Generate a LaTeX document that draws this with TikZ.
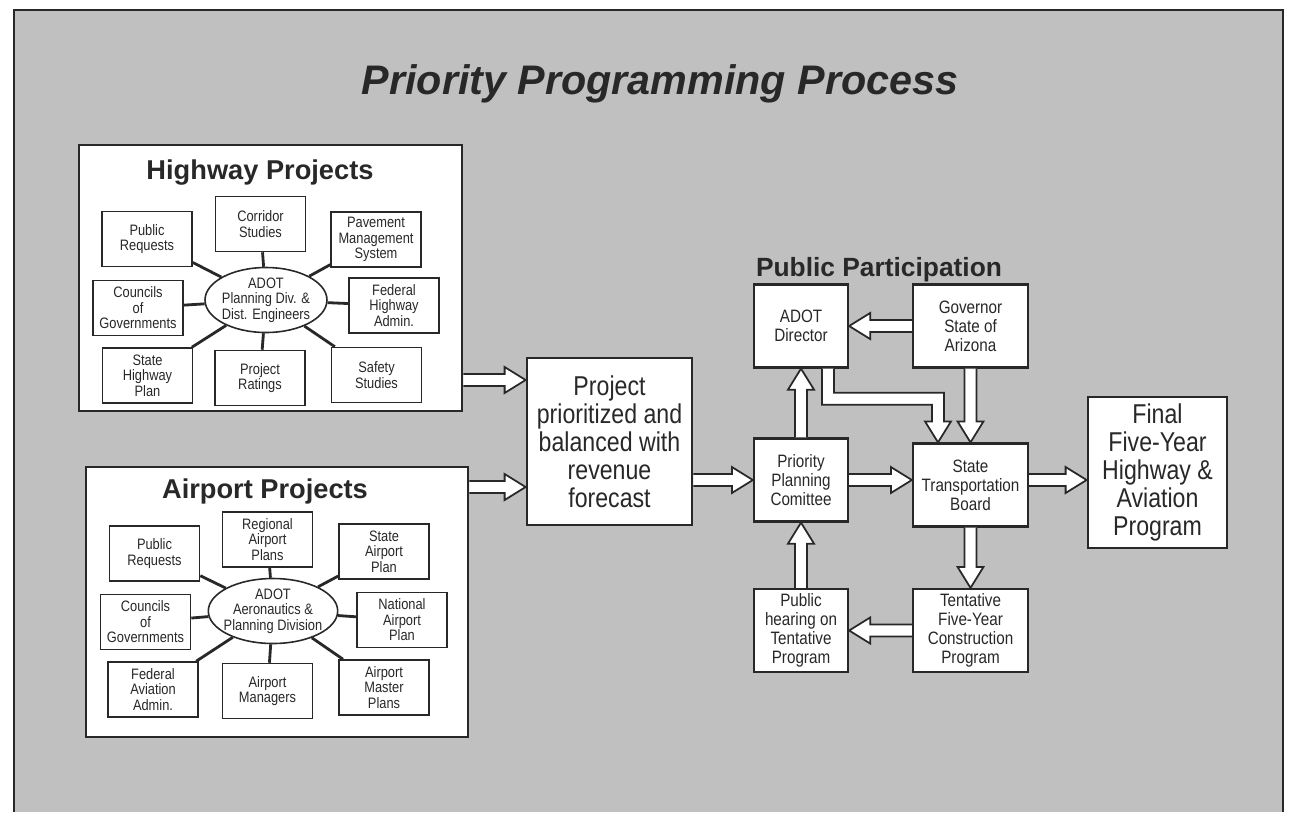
\documentclass[tikz,border=0pt]{standalone}
\usepackage{fontspec}
\usepackage{tikz}
\usetikzlibrary{shapes.geometric,calc}
\setmainfont{Liberation Sans}
\newfontfamily\narrowfont{Liberation Sans}[FakeStretch=0.85]
\definecolor{ink}{RGB}{40,40,40}
\definecolor{paper}{RGB}{192,192,192}

% hollow block arrow from #1 to #2
\newcommand{\fatarrow}[2]{%
  \coordinate (fa-h) at ($(#2)!0.42cm!(#1)$);
  \filldraw[hollow] ($(#1)!0.12cm!90:(#2)$) -- ($(fa-h)!0.12cm!-90:(#1)$)
    -- ($(fa-h)!0.26cm!-90:(#1)$) -- (#2) -- ($(fa-h)!0.26cm!90:(#1)$)
    -- ($(fa-h)!0.12cm!90:(#1)$) -- ($(#1)!0.12cm!-90:(#2)$);}

\begin{document}
\begin{tikzpicture}[x=0.02cm,y=-0.02cm,
  frame/.style={draw=ink,line width=1.2pt},
  group/.style={draw=ink,fill=white,line width=1.6pt},
  grouptitle/.style={text=ink,font={\bfseries\fontsize{15.5}{16}\selectfont}},
  sub/.style={draw=ink,fill=white,line width=0.9pt,minimum width=1.8cm,minimum height=1.1cm,inner sep=1pt,align=center,text=ink,font={\narrowfont\fontsize{8.6}{8.8}\selectfont}},
  hub/.style={sub,ellipse,minimum width=2.44cm,minimum height=1.3cm,inner xsep=-2pt,inner ysep=0pt},
  spoke/.style={draw=ink,line width=1.6pt},
  stage/.style={draw=ink,fill=white,line width=1.3pt,minimum width=1.88cm,minimum height=1.66cm,inner sep=1pt,align=center,text=ink,font={\narrowfont\fontsize{10.2}{10.8}\selectfont}},
  bigstage/.style={stage,line width=1.6pt,font={\narrowfont\fontsize{15.5}{16}\selectfont}},
  hollow/.style={draw=ink,fill=white,line width=1pt,line join=miter}]

% background and frame
\fill[white] (0,0) rectangle (1291,812);
\fill[paper] (14,10) rectangle (1283,812);
\draw[frame] (14,812) -- (14,10) -- (1283,10) -- (1283,812);
\useasboundingbox (0,0) rectangle (1291,812);

\node[text=ink,font={\bfseries\itshape\fontsize{23.5}{26}\selectfont}] (title) at (660,84) {Priority Programming Process};

% highway projects
\node[group,minimum width=7.66cm,minimum height=5.32cm] (hw) at (270.5,278) {};
\node[grouptitle] (hwt) at (260,173) {Highway Projects};
\node[hub] (hhub) at (266,300) {ADOT\\Planning Div. \&\\Dist. Engineers};
\node[sub] (hpr) at (147,239) {Public\\Requests};
\node[sub] (hcs) at (260.5,224) {Corridor\\Studies};
\node[sub] (hpm) at (376,239.5) {Pavement\\Management\\System};
\node[sub] (hcg) at (138,308) {Councils\\of\\Governments};
\node[sub] (hfh) at (394,305.5) {Federal\\Highway\\Admin.};
\node[sub] (hsp) at (147.5,375.5) {State\\Highway\\Plan};
\node[sub] (hrt) at (260,378) {Project\\Ratings};
\node[sub] (hss) at (376.5,375) {Safety\\Studies};
\foreach \b in {hpr,hcs,hpm,hcg,hfh,hsp,hrt,hss}
  \draw[spoke] (hhub) -- (\b);

% airport projects
\node[group,minimum width=7.64cm,minimum height=5.4cm] (ap) at (277,602) {};
\node[grouptitle] (apt) at (265,491) {Airport Projects};
\node[hub] (ahub) at (273,611) {ADOT\\Aeronautics \&\\Planning Division};
\node[sub] (apr) at (154.5,553.5) {Public\\Requests};
\node[sub] (arp) at (267.5,539.5) {Regional\\Airport\\Plans};
\node[sub] (asp) at (384,551.5) {State\\Airport\\Plan};
\node[sub] (acg) at (145.5,622) {Councils\\of\\Governments};
\node[sub] (anp) at (402,620) {National\\Airport\\Plan};
\node[sub] (afa) at (153,689.5) {Federal\\Aviation\\Admin.};
\node[sub] (amg) at (267.5,691) {Airport\\Managers};
\node[sub] (amp) at (384,687.5) {Airport\\Master\\Plans};
\foreach \b in {apr,arp,asp,acg,anp,afa,amg,amp}
  \draw[spoke] (ahub) -- (\b);

% programming steps
\node[bigstage,minimum width=3.3cm,minimum height=3.34cm] (pj) at (609.5,441.5) {Project\\prioritized and\\balanced with\\revenue\\forecast};
\node[text=ink,font={\bfseries\fontsize{15}{16}\selectfont}] (pp) at (879,270) {Public Participation};
\node[stage] (dir) at (801,326) {ADOT\\Director};
\node[stage,minimum width=2.3cm] (gov) at (970.5,326) {Governor\\State of\\Arizona};
\node[stage] (ppc) at (801,480) {Priority\\Planning\\Comittee};
\node[stage,minimum width=2.3cm] (stb) at (970.5,485) {State\\Transportation\\Board};
\node[stage] (pub) at (801,630.5) {Public\\hearing on\\Tentative\\Program};
\node[stage,minimum width=2.3cm] (ten) at (970.5,630.5) {Tentative\\Five-Year\\Construction\\Program};
\node[bigstage,minimum width=2.78cm,minimum height=3.02cm] (fin) at (1157.5,472.5) {Final\\Five-Year\\Highway \&\\Aviation\\Program};

% arrows
\coordinate (hwout) at (hw.east |- 0,380);
\coordinate (pjin1) at (pj.west |- 0,380);
\coordinate (apout) at (ap.east |- 0,487);
\coordinate (pjin2) at (pj.west |- 0,487);
\coordinate (pjout) at (pj.east |- ppc.west);
\coordinate (stbin) at (stb.west |- ppc.east);
\coordinate (stbout) at (stb.east |- ppc.east);
\coordinate (finin) at (fin.west |- ppc.east);
\fatarrow{hwout}{pjin1}
\fatarrow{apout}{pjin2}
\fatarrow{pjout}{ppc.west}
\fatarrow{ppc.east}{stbin}
\fatarrow{stbout}{finin}
\fatarrow{gov.west}{dir.east}
\fatarrow{ppc.north}{dir.south}
\fatarrow{gov.south}{stb.north}
\fatarrow{stb.south}{ten.north}
\fatarrow{ten.west}{pub.east}
\fatarrow{pub.north}{ppc.south}

% director to board, with a bend
\coordinate (e1) at ($(dir.south)+(27,0)$);
\coordinate (e2) at ($(stb.north)+(-32.5,0)$);
\coordinate (e3) at ($(dir.south)+(0,30)$);
\coordinate (c1) at (e1 |- e3);
\coordinate (c2) at (e2 |- e3);
\filldraw[hollow] ($(e1)+(-6,0)$) |- ($(c2)+(-6,6)$) -- ($(e2)+(-6,-21)$)
  -- ($(e2)+(-13,-21)$) -- (e2) -- ($(e2)+(13,-21)$) -- ($(e2)+(6,-21)$)
  |- ($(c1)+(6,-6)$) -- ($(e1)+(6,0)$);
\end{tikzpicture}
\end{document}
